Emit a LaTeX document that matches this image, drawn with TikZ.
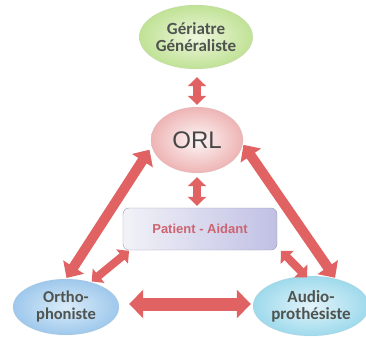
\documentclass[tikz,border=0pt]{standalone}
\usepackage{fontspec}
\setmainfont{Carlito}
\newfontfamily\arialf{Liberation Sans}
\usetikzlibrary{shapes.geometric,arrows.meta,calc}
\definecolor{arrred}{RGB}{224,98,98}
\definecolor{txtgrey}{RGB}{80,84,80}
\definecolor{patred}{RGB}{205,100,112}
\tikzset{
  bub/.style={ellipse, inner sep=0pt, align=center, font=\bfseries\fontsize{17}{17}\selectfont, text=txtgrey, draw opacity=0.3, draw=gray!50},
  bigarrow/.style={draw=arrred, line width=10pt, {Triangle[width=24pt,length=13pt]}-{Triangle[width=24pt,length=13pt]}},
  smallarrow/.style={draw=arrred, line width=8pt, {Triangle[width=18pt,length=9pt]}-{Triangle[width=18pt,length=9pt]}},
  hzarrow/.style={draw=arrred, line width=13pt, {Triangle[width=28pt,length=14pt]}-{Triangle[width=28pt,length=14pt]}}
}
\begin{document}
\begin{tikzpicture}[x=1pt,y=-1pt]
\useasboundingbox (0,0) rectangle (366,337);
\node[bub, minimum width=112pt, minimum height=64pt, shading=radial, inner color={rgb,255:red,238;green,247;blue,220}, outer color={rgb,255:red,192;green,226;blue,150}] (ger) at (196,37) {Gériatre\\Généraliste};
\node[bub, minimum width=92pt, minimum height=66pt, shading=radial, inner color={rgb,255:red,253;green,246;blue,246}, outer color={rgb,255:red,238;green,180;blue,180}, font=\arialf\fontsize{24}{24}\selectfont, text={rgb,255:red,70;green,70;blue,70}] (orl) at (197,140) {ORL};
\node[draw={rgb,255:red,155;green,155;blue,180}, rounded corners=6pt, minimum width=154pt, minimum height=42pt, left color={rgb,255:red,242;green,242;blue,248}, right color={rgb,255:red,192;green,192;blue,228}, font=\arialf\bfseries\fontsize{13}{14}\selectfont, text=patred] (pat) at (200,229) {Patient - Aidant};
\node[bub, minimum width=106pt, minimum height=56pt, shading=radial, inner color={rgb,255:red,218;green,236;blue,249}, outer color={rgb,255:red,158;green,200;blue,236}, font=\bfseries\fontsize{16.5}{17}\selectfont] (ortho) at (66,307) {Ortho-\\phoniste};
\node[bub, minimum width=116pt, minimum height=60pt, shading=radial, inner color={rgb,255:red,226;green,243;blue,250}, outer color={rgb,255:red,158;green,218;blue,236}] (audio) at (311,306) {Audio-\\prothésiste};
\draw[smallarrow, shorten <=8pt, shorten >=2pt] (orl.north |- ger.south) -- (orl.north);
\draw[smallarrow, shorten <=4pt, shorten >=2pt] (orl.south) -- (orl.south |- pat.north);
\draw[bigarrow, shorten <=4pt, shorten >=1pt] (orl.188) -- (ortho.90);
\draw[bigarrow, shorten <=1pt, shorten >=1pt] (orl.-5) -- (audio.48);
\draw[smallarrow, shorten <=1pt, shorten >=1pt] ([xshift=7pt]pat.south west) -- (ortho.45);
\draw[smallarrow, shorten <=1pt, shorten >=-2pt] ([xshift=3pt]pat.south east) -- (audio.100);
\draw[hzarrow, shorten <=10pt, shorten >=2pt] ([yshift=3pt]ortho.east) -- ([yshift=3pt]ortho.east -| audio.west);
\end{tikzpicture}
\end{document}
